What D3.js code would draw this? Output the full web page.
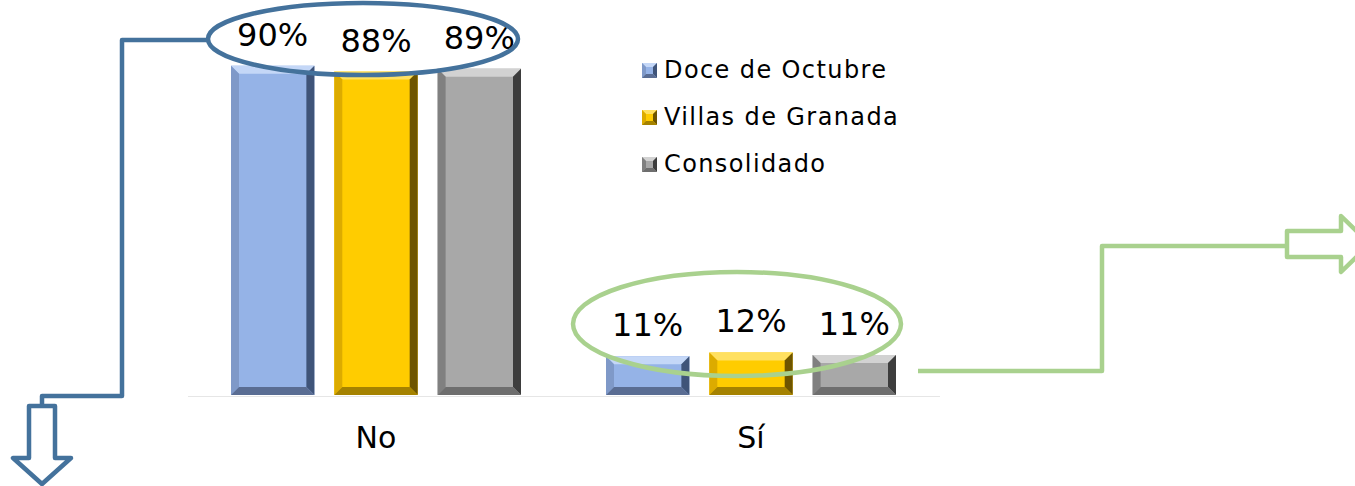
<!DOCTYPE html>
<html>
<head>
<meta charset="utf-8">
<script src="https://cdn.jsdelivr.net/npm/d3@7"></script>
<style>
  body { margin: 0; background: #fff; }
  svg { display: block; font-family: "DejaVu Sans", "Liberation Sans", sans-serif; }
</style>
</head>
<body>
<div class="chart"></div>
<script>
var width = 1355, height = 486;

var categories = ["No", "Sí"];
var series = ["Doce de Octubre", "Villas de Granada", "Consolidado"];
var valuesNo = [89.8, 88.2, 89.0];
var valuesSi = [10.6, 11.6, 10.9];

// bevel colours per series: main, top, left, right, bottom
var palette = [
  { main: "#95b3e7", top: "#c4d7f7", left: "#7f99c8", right: "#3f5479", bottom: "#5a6d93" },
  { main: "#ffcc00", top: "#ffe060", left: "#dcab00", right: "#6e5500", bottom: "#a58200" },
  { main: "#a8a8a8", top: "#d2d2d2", left: "#808080", right: "#3d3d3d", bottom: "#6e6e6e" }
];

var data = [];
categories.forEach(function (c, ci) {
  var vals = ci == 0 ? valuesNo : valuesSi;
  series.forEach(function (s, si) {
    data.push({ cat: c, ser: s, idx: si, value: vals[si] });
  });
});

var svg = d3.select(".chart").append("svg")
  .attr("width", width).attr("height", height);

var x0 = d3.scaleBand().domain(categories).range([188.5, 938.5]);
var x1 = d3.scaleBand().domain(series).range([42.5, 332.5]).paddingInner(0.193);
var y = d3.scaleLinear().domain([0, 100]).range([395, 28.3]);

// axis baseline
svg.append("line")
  .attr("x1", 188).attr("x2", 940)
  .attr("y1", 396.5).attr("y2", 396.5)
  .attr("stroke", "#e6e6e6").attr("stroke-width", 1);

// bevelled rectangle
function bevel(g, x, yTop, w, h, col, b) {
  var x2 = x + w, y2 = yTop + h;
  b = Math.min(b, w / 2, h / 2);
  g.append("rect").attr("x", x).attr("y", yTop).attr("width", w).attr("height", h).attr("fill", col.main);
  g.append("polygon").attr("fill", col.top)
    .attr("points", [[x, yTop], [x2, yTop], [x2 - b, yTop + b], [x + b, yTop + b]].join(" "));
  g.append("polygon").attr("fill", col.left)
    .attr("points", [[x, yTop], [x + b, yTop + b], [x + b, y2 - b], [x, y2]].join(" "));
  g.append("polygon").attr("fill", col.right)
    .attr("points", [[x2, yTop], [x2, y2], [x2 - b, y2 - b], [x2 - b, yTop + b]].join(" "));
  g.append("polygon").attr("fill", col.bottom)
    .attr("points", [[x, y2], [x + b, y2 - b], [x2 - b, y2 - b], [x2, y2]].join(" "));
}

var bars = svg.append("g").attr("class", "bars");
data.forEach(function (d) {
  var bx = x0(d.cat) + x1(d.ser);
  var g = bars.append("g");
  bevel(g, bx, y(d.value), x1.bandwidth(), y(0) - y(d.value), palette[d.idx], 8);
});

// value labels
svg.append("g").selectAll("text")
  .data(data).enter().append("text")
  .attr("x", function (d) { return x0(d.cat) + x1(d.ser) + x1.bandwidth() / 2; })
  .attr("y", function (d) { return y(d.value) - 20; })
  .attr("text-anchor", "middle")
  .attr("font-size", "32px")
  .attr("fill", "#000")
  .text(function (d) { return Math.round(d.value) + "%"; });

// category labels
svg.append("g").selectAll("text")
  .data(categories).enter().append("text")
  .attr("x", function (d) { return x0(d) + x0.bandwidth() / 2; })
  .attr("y", 448)
  .attr("text-anchor", "middle")
  .attr("font-size", "30px")
  .attr("fill", "#000")
  .text(function (d) { return d; });

// legend
var legend = svg.append("g").attr("transform", "translate(642,0)");
series.forEach(function (s, i) {
  var ly = 70 + i * 47;
  bevel(legend.append("g"), 0, ly - 7, 15, 15, palette[i], 4);
  legend.append("text")
    .attr("x", 22).attr("y", ly + 8)
    .attr("font-size", "24px")
    .attr("letter-spacing", "1.4px")
    .attr("fill", "#000")
    .text(s);
});

// callouts
var blue = "#44729c", green = "#a9d18e";
var ann = svg.append("g").attr("fill", "none").attr("stroke-width", 4.5).attr("stroke-linejoin", "round");

ann.append("ellipse").attr("cx", 363).attr("cy", 39).attr("rx", 155).attr("ry", 36).attr("stroke", blue);
ann.append("path").attr("stroke", blue)
  .attr("d", "M208,40 H122 V396 H42 V406");
ann.append("path").attr("stroke", blue).attr("fill", "#fff")
  .attr("d", "M29,406 H55 V458 H71 L42,484 L13,458 H29 Z");

ann.append("ellipse").attr("cx", 737).attr("cy", 324).attr("rx", 164).attr("ry", 52).attr("stroke", green);
ann.append("path").attr("stroke", green)
  .attr("d", "M918,371 H1102 V246 H1287");
ann.append("path").attr("stroke", green).attr("fill", "#fff")
  .attr("d", "M1287,231 H1341 V216 L1370,244 L1341,272 V257 H1287 Z");
</script>
</body>
</html>
